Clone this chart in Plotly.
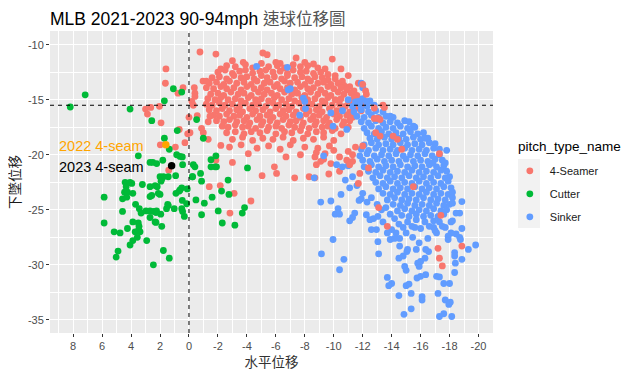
import plotly.graph_objects as go

# ---------------- data ----------------
series_names = ["4-Seamer", "Cutter", "Sinker"]
series_colors = ["#F8766D", "#00BA38", "#619CFF"]

# 4-Seamer: dense arch + scattered pitches
seamer_pts = [
    (-2.6,-11.9),(-3.2,-12.0),(-3.9,-11.8),(-4.4,-12.1),(-5.0,-11.7),(-5.5,-12.0),(-6.1,-11.9),(-6.6,-12.1),(-7.2,-11.8),(-7.7,-12.0),(-8.2,-11.9),(-8.9,-12.1),(-9.4,-12.2),
    (-2.0,-12.5),(-2.5,-12.3),(-3.0,-12.6),(-3.5,-12.4),(-3.9,-12.3),(-4.4,-12.6),(-4.9,-12.4),(-5.3,-12.3),(-5.8,-12.5),(-6.3,-12.4),(-6.8,-12.6),(-7.2,-12.3),(-7.7,-12.5),(-8.1,-12.4),(-8.6,-12.6),(-9.1,-12.5),(-9.6,-12.7),(-10.1,-12.8),
    (-1.6,-13.0),(-2.1,-12.9),(-2.6,-13.1),(-3.1,-12.8),(-3.6,-13.0),(-4.0,-12.9),(-4.5,-13.1),(-5.0,-12.8),(-5.4,-13.0),(-5.9,-12.9),(-6.4,-13.1),(-6.8,-12.8),(-7.3,-13.0),(-7.8,-12.9),(-8.2,-13.1),(-8.7,-12.9),(-9.2,-13.0),(-9.6,-13.2),(-10.1,-13.1),(-10.6,-13.3),
    (-1.4,-13.5),(-1.9,-13.4),(-2.4,-13.6),(-2.8,-13.3),(-3.3,-13.5),(-3.8,-13.4),(-4.3,-13.6),(-4.7,-13.3),(-5.2,-13.5),(-5.6,-13.4),(-6.1,-13.6),(-6.6,-13.3),(-7.0,-13.5),(-7.5,-13.4),(-8.0,-13.6),(-8.4,-13.3),(-8.9,-13.5),(-9.3,-13.4),(-9.8,-13.6),(-10.3,-13.5),(-10.7,-13.7),(-11.1,-13.8),
    (-1.2,-13.9),(-1.7,-14.0),(-2.2,-13.8),(-2.6,-14.0),(-3.1,-13.9),(-3.6,-14.1),(-4.0,-13.8),(-4.5,-14.0),(-5.0,-13.9),(-5.4,-14.1),(-5.9,-13.8),(-6.3,-14.0),(-6.8,-13.9),(-7.3,-14.1),(-7.7,-13.8),(-8.2,-14.0),(-8.6,-13.9),(-9.1,-14.1),(-9.6,-13.8),(-10.0,-14.0),(-10.5,-13.9),(-10.9,-14.1),(-11.4,-14.2),
    (-1.5,-14.5),(-2.0,-14.4),(-2.4,-14.6),(-2.9,-14.3),(-3.4,-14.5),(-3.8,-14.4),(-4.3,-14.6),(-4.8,-14.3),(-5.2,-14.5),(-5.7,-14.4),(-6.1,-14.6),(-6.6,-14.3),(-7.1,-14.5),(-7.5,-14.4),(-8.0,-14.6),(-8.4,-14.3),(-8.9,-14.5),(-9.4,-14.4),(-9.8,-14.6),(-10.3,-14.3),(-10.7,-14.5),(-11.2,-14.4),(-11.6,-14.6),
    (-1.3,-14.9),(-1.8,-15.0),(-2.2,-14.8),(-2.7,-15.0),(-3.2,-14.9),(-3.6,-15.1),(-4.1,-14.8),(-4.6,-15.0),(-5.0,-14.9),(-5.5,-15.1),(-5.9,-14.8),(-6.4,-15.0),(-6.9,-14.9),(-7.3,-15.1),(-7.8,-14.8),(-8.2,-15.0),(-8.7,-14.9),(-9.2,-15.1),(-9.6,-14.8),(-10.1,-15.0),(-10.5,-14.9),(-11.0,-15.1),(-11.4,-14.8),(-11.8,-15.0),
    (-1.2,-15.4),(-1.6,-15.5),(-2.1,-15.3),(-2.5,-15.5),(-3.0,-15.4),(-3.5,-15.6),(-3.9,-15.3),(-4.4,-15.5),(-4.8,-15.4),(-5.3,-15.6),(-5.8,-15.3),(-6.2,-15.5),(-6.7,-15.4),(-7.1,-15.6),(-7.6,-15.3),(-8.1,-15.5),(-8.5,-15.4),(-9.0,-15.6),(-9.4,-15.3),(-9.9,-15.5),(-10.4,-15.4),(-10.8,-15.6),(-11.3,-15.3),(-11.7,-15.5),(-12.1,-15.4),
    (-1.4,-15.9),(-1.9,-16.0),(-2.3,-15.8),(-2.8,-16.0),(-3.3,-15.9),(-3.7,-16.1),(-4.2,-15.8),(-4.6,-16.0),(-5.1,-15.9),(-5.6,-16.1),(-6.0,-15.8),(-6.5,-16.0),(-6.9,-15.9),(-7.4,-16.1),(-7.9,-15.8),(-8.3,-16.0),(-8.8,-15.9),(-9.2,-16.1),(-9.7,-15.8),(-10.2,-16.0),(-10.6,-15.9),(-11.1,-16.1),(-11.5,-15.8),(-11.9,-16.0),
    (-1.7,-16.4),(-2.1,-16.5),(-2.6,-16.3),(-3.1,-16.5),(-3.5,-16.4),(-4.0,-16.6),(-4.4,-16.3),(-4.9,-16.5),(-5.4,-16.4),(-5.8,-16.6),(-6.3,-16.3),(-6.7,-16.5),(-7.2,-16.4),(-7.7,-16.6),(-8.1,-16.3),(-8.6,-16.5),(-9.0,-16.4),(-9.5,-16.6),(-10.0,-16.3),(-10.4,-16.5),(-10.9,-16.4),(-11.3,-16.6),
    (-1.9,-16.9),(-2.4,-17.0),(-2.8,-16.8),(-3.3,-17.0),(-3.8,-16.9),(-4.2,-17.1),(-4.7,-16.8),(-5.1,-17.0),(-5.6,-16.9),(-6.1,-17.1),(-6.5,-16.8),(-7.0,-17.0),(-7.4,-16.9),(-7.9,-17.1),(-8.4,-16.8),(-8.8,-17.0),(-9.3,-16.9),(-9.7,-17.1),(-10.2,-16.8),(-10.7,-17.0),(-11.1,-16.9),
    (-2.3,-17.4),(-2.7,-17.5),(-3.2,-17.3),(-3.7,-17.5),(-4.1,-17.4),(-4.6,-17.6),(-5.0,-17.3),(-5.5,-17.5),(-6.0,-17.4),(-6.4,-17.6),(-6.9,-17.3),(-7.3,-17.5),(-7.8,-17.4),(-8.3,-17.6),(-8.7,-17.3),(-9.2,-17.5),(-9.6,-17.4),(-10.1,-17.6),(-10.6,-17.3),(-11.0,-17.5),
    (-2.6,-18.0),(-3.2,-17.9),(-3.8,-18.1),(-4.3,-17.9),(-4.9,-18.0),(-5.4,-17.8),(-6.0,-18.1),(-6.6,-17.9),(-7.1,-18.0),(-7.7,-17.8),(-8.2,-18.1),(-8.8,-17.9),(-9.3,-18.0),(-9.9,-17.8),(-10.5,-18.1),
    (-3.0,-18.6),(-3.7,-18.4),(-4.4,-18.7),(-5.1,-18.5),(-5.8,-18.6),(-6.5,-18.4),(-7.2,-18.7),(-7.9,-18.5),(-8.6,-18.6),(-9.3,-18.4),(-10.0,-18.7),
    (-2.8,-19.3),(-3.6,-19.1),(-4.7,-19.4),(-5.5,-19.2),(-6.3,-19.5),(-7.0,-19.1),(-8.0,-19.3),(-8.9,-19.4),(-9.7,-19.2),
    (-0.76,-10.66),(-1.86,-10.85),(1.59,-12.2),(1.63,-13.5),(0.41,-13.9),(0.76,-14.4),(-0.37,-13.9),(-0.41,-14.4),(-0.97,-13.3),(-1.2,-13.3),
    (3.0,-15.85),(2.64,-15.7),(2.04,-15.6),(2.87,-16.3),(1.93,-17.1),(0.67,-17.7),(0.28,-18.9),(1.98,-19.1),(1.4,-21.4),(0.94,-19.3),(0.09,-18.1),
    (-1.4,-22.9),(-2.16,-22.8),(-3.12,-23.5),(-2.83,-25.3),(-4.28,-24.2),
    (-5.1,-10.75),(-5.4,-10.9),(-3.0,-11.45),(-3.75,-11.6),(-6.3,-11.7),(-6.0,-11.6),(-7.4,-11.2),(-8.0,-11.6),(-8.6,-11.75),(-9.9,-11.3),(-2.2,-12.2),
    (-0.2,-15.15),(-0.3,-15.5),(0.0,-16.6),(-0.57,-16.45),(-0.87,-17.6),(-0.07,-18.0),(-1.45,-16.5),(-1.33,-17.0),(-0.41,-14.7),
    (-3.0,-20.7),(-4.1,-19.9),(-5.05,-21.9),(-5.9,-21.1),(-6.05,-21.7),(-6.7,-20.2),(-7.3,-22.1),(-8.3,-22.0),(-7.7,-20.0),(-2.2,-19.15),(-1.86,-20.5),(-1.33,-18.6),(-0.99,-18.0),
    (-8.7,-22.1),(-10.4,-20.2),(-9.4,-19.9),(-9.8,-20.8),(-8.7,-20.2),(-9.66,-21.75),(-10.4,-21.5),(-8.8,-19.8),(-9.3,-20.4),(-10.0,-19.6),(-8.8,-20.9),(-9.1,-20.6),
    (-10.5,-12.2),(-11.0,-12.8),(-11.7,-13.5),
]

# 4-Seamer pitches sitting inside the Sinker cloud (drawn above it)
seamer_over_pts = [
    (-13.1,-24.8),(-13.7,-26.5),(-17.2,-28.5),(-17.3,-29.4),(-18.85,-28.3),(-17.5,-30.1),(-17.3,-19.9),(-12.4,-21.2),(-11.7,-22.6),
    (-14.7,-19.5),(-15.5,-22.9),(-17.4,-25.5),(-13.4,-15.5),(-13.5,-15.7),(-12.8,-16.7),(-13.2,-16.8),(-14.1,-18.3),(-14.4,-18.6),
    (-12.0,-19.2),(-12.8,-15.75),(-13.05,-16.7),(-12.9,-18.0),(-13.2,-18.3),(-11.3,-20.0),(-11.0,-19.7),(-11.3,-20.6),(-11.8,-21.7),
    (-12.0,-13.6),(-12.2,-14.2),(-12.25,-14.5),(-10.9,-20.5),(-11.5,-19.3),(-11.1,-20.9),
]

sinker_pts = [
    (-11.0,-15.0),(-11.5,-15.2),(-12.0,-14.9),(-12.5,-15.1),
    (-11.3,-15.6),(-11.8,-15.4),(-12.3,-15.6),(-12.8,-15.5),
    (-11.4,-16.1),(-11.9,-15.9),(-12.4,-16.1),(-12.9,-16.0),(-13.4,-16.1),
    (-11.6,-16.5),(-12.1,-16.6),(-12.6,-16.4),(-13.1,-16.6),(-13.6,-16.5),(-14.1,-16.6),
    (-11.9,-17.0),(-12.4,-17.1),(-12.9,-16.9),(-13.4,-17.1),(-13.9,-17.0),(-14.4,-17.1),(-14.9,-16.9),
    (-12.1,-17.6),(-12.6,-17.4),(-13.1,-17.6),(-13.6,-17.5),(-14.1,-17.6),(-14.6,-17.4),(-15.1,-17.6),(-15.6,-17.5),
    (-12.3,-18.0),(-12.8,-18.1),(-13.3,-17.9),(-13.8,-18.1),(-14.3,-18.0),(-14.8,-18.1),(-15.3,-17.9),(-15.8,-18.1),(-16.2,-18.0),
    (-12.5,-18.5),(-13.0,-18.6),(-13.5,-18.4),(-14.0,-18.6),(-14.5,-18.5),(-15.0,-18.6),(-15.5,-18.4),(-16.0,-18.6),(-16.5,-18.5),
    (-12.1,-19.1),(-12.6,-18.9),(-13.1,-19.1),(-13.6,-19.0),(-14.1,-19.1),(-14.6,-18.9),(-15.1,-19.1),(-15.6,-19.0),(-16.1,-19.1),(-16.6,-18.9),(-17.0,-19.0),
    (-11.9,-19.5),(-12.4,-19.6),(-12.9,-19.4),(-13.4,-19.6),(-13.9,-19.5),(-14.4,-19.6),(-14.9,-19.4),(-15.4,-19.6),(-15.9,-19.5),(-16.4,-19.6),(-16.9,-19.4),(-17.3,-19.5),
    (-11.8,-20.1),(-12.3,-19.9),(-12.8,-20.1),(-13.3,-20.0),(-13.8,-20.1),(-14.3,-19.9),(-14.8,-20.1),(-15.3,-20.0),(-15.8,-20.1),(-16.3,-19.9),(-16.8,-20.1),(-17.3,-20.0),
    (-12.0,-20.5),(-12.5,-20.6),(-13.0,-20.4),(-13.5,-20.6),(-14.0,-20.5),(-14.5,-20.6),(-15.0,-20.4),(-15.5,-20.6),(-16.0,-20.5),(-16.5,-20.6),(-17.0,-20.4),(-17.5,-20.5),
    (-12.1,-21.1),(-12.6,-20.9),(-13.1,-21.1),(-13.6,-21.0),(-14.1,-21.1),(-14.6,-20.9),(-15.1,-21.1),(-15.6,-21.0),(-16.1,-21.1),(-16.6,-20.9),(-17.1,-21.1),(-17.6,-21.0),
    (-12.4,-21.5),(-12.9,-21.6),(-13.4,-21.4),(-13.9,-21.6),(-14.4,-21.5),(-14.9,-21.6),(-15.4,-21.4),(-15.9,-21.6),(-16.4,-21.5),(-16.9,-21.6),(-17.4,-21.4),(-17.8,-21.5),
    (-12.7,-22.1),(-13.2,-21.9),(-13.7,-22.1),(-14.2,-22.0),(-14.7,-22.1),(-15.2,-21.9),(-15.7,-22.1),(-16.2,-22.0),(-16.7,-22.1),(-17.2,-21.9),(-17.7,-22.1),(-18.0,-22.0),
    (-12.9,-22.5),(-13.4,-22.6),(-13.9,-22.4),(-14.4,-22.6),(-14.9,-22.5),(-15.4,-22.6),(-15.9,-22.4),(-16.4,-22.6),(-16.9,-22.5),(-17.4,-22.6),(-17.9,-22.4),
    (-13.1,-23.1),(-13.6,-22.9),(-14.1,-23.1),(-14.6,-23.0),(-15.1,-23.1),(-15.6,-22.9),(-16.1,-23.1),(-16.6,-23.0),(-17.1,-23.1),(-17.6,-22.9),(-18.1,-23.0),
    (-13.4,-23.5),(-13.9,-23.6),(-14.4,-23.4),(-14.9,-23.6),(-15.4,-23.5),(-15.9,-23.6),(-16.4,-23.4),(-16.9,-23.6),(-17.4,-23.5),(-17.9,-23.6),(-18.2,-23.4),
    (-13.7,-24.1),(-14.2,-23.9),(-14.7,-24.1),(-15.2,-24.0),(-15.7,-24.1),(-16.2,-23.9),(-16.7,-24.1),(-17.2,-24.0),(-17.7,-24.1),(-18.2,-23.9),
    (-14.1,-24.5),(-14.6,-24.6),(-15.1,-24.4),(-15.6,-24.6),(-16.1,-24.5),(-16.6,-24.6),(-17.1,-24.4),(-17.6,-24.6),(-18.0,-24.5),
    (-14.4,-25.1),(-14.9,-24.9),(-15.4,-25.1),(-15.9,-25.0),(-16.4,-25.1),(-16.9,-24.9),(-17.4,-25.1),(-17.8,-25.0),
    (-14.7,-25.5),(-15.2,-25.6),(-15.7,-25.4),(-16.2,-25.6),(-16.7,-25.5),(-17.2,-25.6),(-17.6,-25.4),
    (-15.1,-26.1),(-15.7,-25.9),(-16.3,-26.1),(-16.9,-26.0),(-17.3,-26.1),
    (-9.15,-29.0),(-10.4,-30.45),(-10.7,-29.5),(-9.95,-27.7),(-9.1,-24.3),(-9.8,-24.2),(-10.5,-23.6),(-10.1,-25.4),(-10.4,-25.4),(-10.3,-24.9),
    (-11.1,-26.0),(-11.3,-25.7),(-11.45,-25.3),(-11.75,-24.15),(-11.9,-24.0),(-12.25,-25.45),(-12.5,-25.9),(-12.75,-25.8),(-12.95,-26.8),(-13.4,-26.1),
    (-13.05,-27.9),(-13.1,-29.0),(-13.9,-27.7),(-14.2,-27.6),(-14.0,-26.8),(-14.3,-27.1),(-14.55,-28.3),(-14.5,-29.4),(-14.8,-29.2),(-13.7,-31.15),
    (-14.0,-31.7),(-14.5,-32.8),(-14.85,-34.5),(-15.0,-31.9),(-15.2,-31.75),(-15.35,-32.6),(-15.35,-34.0),(-15.05,-28.8),(-15.1,-28.6),(-14.9,-30.15),
    (-15.0,-30.5),(-15.7,-28.6),(-15.8,-29.85),(-15.9,-30.15),(-16.0,-29.7),(-16.3,-29.4),(-15.75,-31.2),(-16.0,-31.05),(-16.35,-30.9),(-16.1,-32.9),
    (-16.1,-33.2),(-16.35,-28.6),(-16.55,-28.8),(-17.1,-31.05),(-17.3,-31.1),(-17.2,-32.6),(-17.6,-31.7),(-18.0,-31.7),(-17.7,-33.2),(-17.95,-33.6),
    (-18.05,-33.4),(-17.3,-34.7),(-17.6,-34.45),(-18.15,-34.7),(-18.35,-28.9),(-18.35,-29.2),(-18.4,-29.85),(-18.35,-30.7),(-18.85,-29.5),(-19.3,-28.6),
    (-19.8,-28.2),(-18.7,-27.5),(-18.75,-27.7),(-18.45,-27.2),(-18.1,-27.1),(-17.9,-27.4),(-17.9,-27.7),(-17.5,-26.5),(-17.7,-26.6),(-18.1,-26.1),
    (-18.2,-26.0),(-18.85,-26.7),(-18.7,-25.3),(-18.45,-25.3),(-18.85,-24.25),(-16.9,-26.6),(-17.1,-27.1),(-16.5,-27.6),(-15.9,-28.0),(-15.45,-27.5),
    (-15.0,-27.1),(-14.55,-27.6),(-15.6,-26.6),(-13.8,-31.9),(-13.05,-25.6),(-13.7,-27.1),(-12.6,-26.8),(-18.2,-24.4),
    (-11.0,-21.0),(-11.3,-22.0),(-11.6,-22.8),(-11.1,-23.0),(-10.8,-22.3),(-12.0,-23.5),(-12.3,-24.3),(-12.6,-23.9),(-13.0,-24.5),(-13.3,-25.0),
    (-13.6,-24.8),(-13.9,-25.4),(-14.2,-25.8),(-14.5,-26.3),(-14.8,-26.6),(-15.4,-26.5),(-16.0,-26.7),(-16.6,-26.5),(-17.0,-26.9),
    (-4.67,-11.97),(-6.8,-12.05),(-7.0,-14.0),(-7.9,-14.85),(-8.0,-15.15),(-8.05,-15.8),(-7.65,-16.4),(-9.3,-20.1),(-8.65,-22.1),(-9.8,-16.2),
    (-10.6,-16.0),(-9.95,-17.4),(-10.9,-17.7),(-10.2,-20.9),(-10.6,-21.1),(-6.85,-14.1),(-11.9,-13.5),(-12.0,-13.9),(-11.7,-15.15),(-12.25,-15.15),
    (-13.9,-16.5),(-15.2,-17.0),(-15.5,-17.4),(-16.3,-18.5),(-17.8,-19.6),(-17.7,-20.75),(-16.85,-20.75),
]

cutter_pts = [
    (7.17,-14.55),(8.2,-15.66),(4.07,-15.85),(1.7,-15.1),(1.08,-14.0),(0.5,-14.3),(2.57,-16.9),(-0.53,-16.8),(-0.99,-18.5),(0.81,-17.8),
    (1.7,-18.5),(1.36,-19.5),(3.5,-20.1),(2.69,-20.7),(2.5,-20.7),(2.23,-20.8),(1.81,-20.5),(0.85,-20.0),(0.62,-20.15),(0.46,-20.2),
    (0.44,-20.9),(0.92,-21.9),(2.0,-22.0),(1.77,-22.0),(-0.41,-21.1),(-0.23,-22.0),(-1.52,-20.45),(-1.86,-20.1),(-1.8,-21.1),(-4.04,-21.2),
    (-1.52,-21.1),(-1.9,-21.1),(-0.3,-20.9),(-0.8,-21.7),(-2.7,-22.3),
    (5.86,-23.85),(5.86,-26.2),(5.17,-27.0),(4.76,-27.1),(4.9,-28.75),(5.03,-29.3),(4.25,-26.7),(4.07,-28.2),(3.88,-27.8),(3.57,-27.5),
    (3.47,-26.8),(3.38,-27.0),(3.88,-26.1),(3.5,-26.2),(3.45,-26.5),(4.59,-25.15),(4.59,-24.0),(4.3,-23.85),(4.45,-23.4),(4.25,-23.4),
    (4.41,-22.5),(3.95,-22.6),(4.34,-22.9),(4.07,-22.5),(3.88,-23.5),(3.22,-22.7),(3.69,-24.5),(3.43,-24.9),(3.31,-25.3),(2.92,-27.8),
    (2.46,-30.0),(1.77,-28.7),(1.36,-29.4),(2.69,-22.9),(2.34,-22.8),(2.19,-22.9),(2.69,-23.8),(2.57,-23.7),(2.12,-23.5),(2.0,-23.6),
    (1.88,-22.2),(1.93,-22.4),(1.43,-22.0),(2.97,-25.1),(2.69,-25.1),(2.46,-25.15),(2.24,-25.1),(2.28,-25.25),(1.95,-25.4),(2.69,-25.7),
    (2.34,-26.1),(2.28,-26.15),(1.88,-26.5),(1.55,-24.9),(1.43,-24.6),(1.47,-24.5),(1.02,-24.9),(0.5,-24.9),(0.44,-25.15),(0.9,-23.5),
    (0.67,-23.3),(0.5,-23.0),(0.62,-23.2),(0.46,-24.15),(0.16,-24.45),(0.32,-25.6),(0.12,-23.1),(-0.25,-22.0),(-0.87,-22.4),(-0.48,-24.1),
    (-1.06,-24.4),(-0.87,-25.45),(-1.6,-23.85),(-2.02,-25.1),(-2.25,-23.3),(-2.76,-23.6),(-2.3,-26.2),(-3.17,-26.4),(-3.68,-25.3),(-3.84,-24.8),
    (3.72,-27.0),
]

highlight_labels = ["2022 4-seam", "2023 4-seam"]
highlight_colors = ["#FFA500", "#000000"]
highlight_x = [1.6, 1.2]
highlight_y = [-19.1, -21.0]
label_x = [9.1, 9.1]
label_y = [-19.2, -21.1]

x_tickvals = [8, 6, 4, 2, 0, -2, -4, -6, -8, -10, -12, -14, -16, -18, -20]
x_ticktext = ["8", "6", "4", "2", "0", "-2", "-4", "-6", "-8", "-10", "-12", "-14", "-16", "-18", "-20"]
y_tickvals = [-10, -15, -20, -25, -30, -35]
y_ticktext = ["-10", "-15", "-20", "-25", "-30", "-35"]
x_range = [9.6, -21.0]
y_range = [-36.2, -8.75]
ref_x = 0
ref_y = -15.5

# ---------------- figure ----------------
FONT = "Liberation Sans, Arial, Noto Sans CJK TC, sans-serif"
MS = 6.8
W, H = 626, 362   # page adds an 8px body margin around the figure

def xs(pts):
    return [p[0] for p in pts]

def ys(pts):
    return [p[1] for p in pts]

fig = go.Figure()
fig.add_trace(go.Scatter(x=xs(seamer_pts), y=ys(seamer_pts), mode="markers", name=series_names[0],
                         legendrank=1, legendgroup="a",
                         marker=dict(color=series_colors[0], size=MS, line=dict(width=0))))
fig.add_trace(go.Scatter(x=xs(sinker_pts), y=ys(sinker_pts), mode="markers", name=series_names[2],
                         legendrank=3, legendgroup="c",
                         marker=dict(color=series_colors[2], size=MS, line=dict(width=0))))
fig.add_trace(go.Scatter(x=xs(seamer_over_pts), y=ys(seamer_over_pts), mode="markers", name=series_names[0],
                         showlegend=False, legendgroup="a",
                         marker=dict(color=series_colors[0], size=MS, line=dict(width=0))))
fig.add_trace(go.Scatter(x=xs(cutter_pts), y=ys(cutter_pts), mode="markers", name=series_names[1],
                         legendrank=2, legendgroup="b",
                         marker=dict(color=series_colors[1], size=MS, line=dict(width=0))))
for i in range(2):
    fig.add_trace(go.Scatter(x=[highlight_x[i]], y=[highlight_y[i]], mode="markers", showlegend=False,
                             marker=dict(color=highlight_colors[i], size=7.5, line=dict(width=0))))
    fig.add_annotation(x=label_x[i], y=label_y[i], text=highlight_labels[i], showarrow=False,
                       xanchor="left", yanchor="middle",
                       font=dict(family=FONT, size=14.5, color=highlight_colors[i]))

fig.add_shape(type="line", xref="x", yref="paper", x0=ref_x, x1=ref_x, y0=0, y1=1,
              line=dict(color="black", width=1, dash="4px,4px"))
fig.add_shape(type="line", xref="paper", yref="y", x0=0, x1=1, y0=ref_y, y1=ref_y,
              line=dict(color="black", width=1, dash="4px,4px"))
# grey legend-key backdrop (ggplot style)
fig.add_shape(type="rect", xref="paper", yref="paper", x0=1.0564, x1=1.1061, y0=0.3477, y1=0.5762,
              fillcolor="#F2F2F2", line=dict(width=0), layer="below")
# legend title
fig.add_annotation(xref="paper", yref="paper", x=1.052, y=0.619, xanchor="left", yanchor="middle",
                   text="pitch_type_name", showarrow=False,
                   font=dict(family=FONT, size=13.5, color="black"))

axis_common = dict(showgrid=True, gridcolor="white", gridwidth=1.1, zeroline=False, automargin=False,
                   ticks="outside", ticklen=3, tickcolor="#333333", tickwidth=1,
                   tickfont=dict(family=FONT, size=11, color="#4D4D4D"), showline=False)

fig.update_xaxes(range=x_range, tickvals=x_tickvals, ticktext=x_ticktext,
                 minor=dict(dtick=1, tick0=0, showgrid=True, gridcolor="white", gridwidth=0.5, ticks=""),
                 title=dict(text="水平位移", font=dict(family=FONT, size=13.5, color="#333333"), standoff=10),
                 **axis_common)
fig.update_yaxes(range=y_range, tickvals=y_tickvals, ticktext=y_ticktext,
                 minor=dict(dtick=2.5, tick0=0, showgrid=True, gridcolor="white", gridwidth=0.5, ticks=""),
                 title=dict(text="下墜位移", font=dict(family=FONT, size=13.5, color="#1A1A1A"), standoff=6),
                 **axis_common)

fig.update_layout(
    width=W, height=H,
    margin=dict(l=42, r=141, t=23, b=37, autoexpand=False),
    paper_bgcolor="white", plot_bgcolor="#EBEBEB",
    title=dict(text='MLB 2021-2023 90-94mph <span style="font-size:16.5px;color:#555555">速球位移圖</span>',
               x=42 / W, xanchor="left", y=1 - 11 / H, yanchor="middle",
               font=dict(family=FONT, size=17.5, color="black")),
    legend=dict(font=dict(family=FONT, size=11, color="#1A1A1A"),
                x=1.038, xanchor="left", y=0.585, yanchor="top",
                bgcolor="rgba(0,0,0,0)", tracegroupgap=4, itemclick=False),
    showlegend=True,
)

fig.write_html("out.html")
